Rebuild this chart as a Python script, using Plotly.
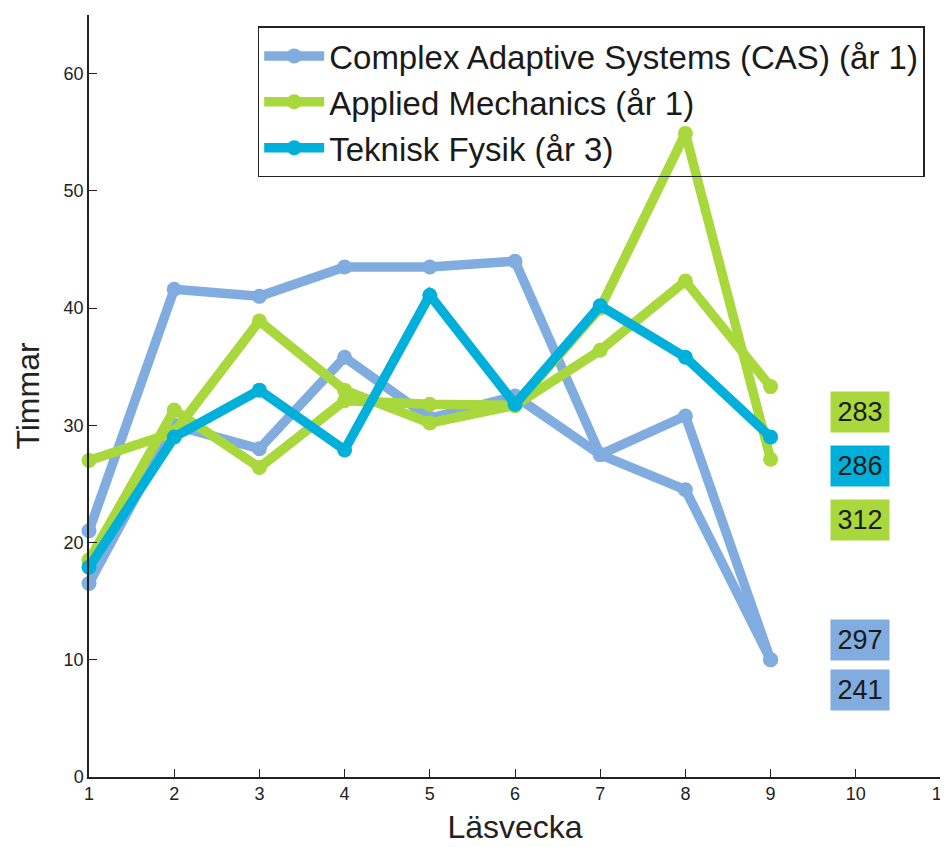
import plotly.graph_objects as go

weeks = [1, 2, 3, 4, 5, 6, 7, 8, 9]

cas_a = [21.0, 41.6, 41.0, 43.5, 43.5, 44.0, 27.5, 24.5, 10.0]
cas_b = [16.5, 30.0, 28.0, 35.8, 30.6, 32.5, 27.5, 30.8, 10.0]
am_a = [27.0, 29.4, 38.9, 33.0, 30.2, 31.7, 40.0, 54.9, 27.1]
am_b = [18.5, 31.3, 26.4, 32.1, 31.8, 31.7, 36.4, 42.3, 33.3]
tf = [17.9, 29.0, 33.0, 27.9, 41.1, 31.8, 40.2, 35.8, 29.0]

series_names = ["Complex Adaptive Systems (CAS) (år 1)",
                "Applied Mechanics (år 1)",
                "Teknisk Fysik (år 3)"]

total_labels = ["283", "286", "312", "297", "241"]
total_y = [31.1, 26.5, 21.9, 11.7, 7.4]

C_CAS = "#80acdf"
C_AM = "#a9d83c"
C_TF = "#00b0da"
label_colors = [C_AM, C_TF, C_AM, C_CAS, C_CAS]

fig = go.Figure()

def add(y, color, name, show, group):
    fig.add_trace(go.Scatter(
        x=weeks, y=y, mode="lines+markers", name=name,
        legendgroup=group, showlegend=show, cliponaxis=False,
        line=dict(color=color, width=9.5),
        marker=dict(color=color, size=15),
    ))

add(cas_a, C_CAS, series_names[0], True, "cas")
add(cas_b, C_CAS, series_names[0], False, "cas")
add(am_a, C_AM, series_names[1], True, "am")
add(am_b, C_AM, series_names[1], False, "am")
add(tf, C_TF, series_names[2], True, "tf")

for txt, yy, col in zip(total_labels, total_y, label_colors):
    fig.add_annotation(
        x=10.05, y=yy, xref="x", yref="y", text=txt, showarrow=False,
        bgcolor=col, width=56, height=38,
        font=dict(family="Liberation Sans, Arial", size=27, color="#1a1a1a"),
    )

tick_font = dict(family="Liberation Sans Narrow, Arial Narrow, Liberation Sans", size=18, color="#222")

# the page body adds an 8px offset, so the figure is sized to fit the 948x847 window
fig.update_layout(
    width=940, height=839,
    margin=dict(l=81, r=7, t=7, b=70),
    paper_bgcolor="white", plot_bgcolor="white",
    showlegend=True,
    legend=dict(
        x=0.198, y=0.985, xanchor="left", yanchor="top",
        bordercolor="#222", borderwidth=1.5, bgcolor="rgba(255,255,255,0)",
        font=dict(family="Liberation Sans, Arial", size=33, color="#1a1a1a"),
        itemwidth=60, tracegroupgap=0,
    ),
    xaxis=dict(
        range=[1, 11], tickvals=list(range(1, 12)), automargin=False,
        ticklabeloverflow="allow",
        showgrid=False, zeroline=False,
        showline=True, linecolor="#222", linewidth=1.5,
        ticks="inside", ticklen=8, tickcolor="#222",
        tickfont=tick_font,
        title=dict(text="Läsvecka", font=dict(family="Liberation Sans, Arial", size=32, color="#222"), standoff=12),
    ),
    yaxis=dict(
        range=[0, 65], tickvals=[0, 10, 20, 30, 40, 50, 60], automargin=False,
        showgrid=False, zeroline=False,
        showline=True, linecolor="#222", linewidth=1.5,
        ticks="inside", ticklen=8, tickcolor="#222",
        tickfont=tick_font,
        title=dict(text="Timmar", font=dict(family="Liberation Sans, Arial", size=32, color="#222"), standoff=14),
    ),
)

fig.write_html("out.html")
